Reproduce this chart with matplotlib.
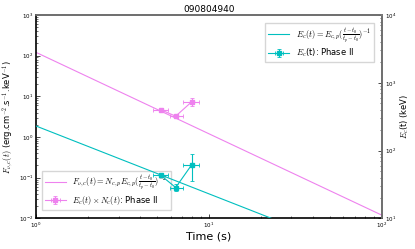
import numpy as np
import matplotlib.pyplot as plt

plt.rcParams['mathtext.fontset'] = 'cm'

# Phase II data (left axis: flux, right axis: Ec)
t_mid = [5.28, 6.42, 7.94]
t_lo = [4.77, 5.95, 7.05]
t_hi = [5.82, 7.05, 8.75]
flux = [4.65, 3.25, 7.3]
flux_lo = [4.2, 2.9, 5.7]
flux_hi = [5.1, 3.6, 9.2]
ec = [42.9, 28.5, 61.5]
ec_lo = [40.5, 25.4, 35.3]
ec_hi = [45.5, 31.9, 87.5]

# fitted power laws: value at t = 1 s and index
flux_norm, flux_index = 120.0, -2.0
ec_norm, ec_index = 230.0, -1.0

c_flux = '#ee82ee'
c_ec = '#00bfbf'

t_mid = np.array(t_mid)
xerr = [t_mid - np.array(t_lo), np.array(t_hi) - t_mid]
flux = np.array(flux)
yerr_f = [flux - np.array(flux_lo), np.array(flux_hi) - flux]
ec = np.array(ec)
yerr_e = [ec - np.array(ec_lo), np.array(ec_hi) - ec]

t_model = np.logspace(0, 2, 200)

fig = plt.figure(figsize=(4.15, 2.49), dpi=100)
ax = fig.add_axes([0.087, 0.123, 0.833, 0.817])
ax2 = ax.twinx()

ax.plot(t_model, flux_norm * t_model ** flux_index, color=c_flux, lw=0.8,
        label=r'$F_{\nu,c}(t) = N_{c,p}E_{c,p}(\frac{t-t_0}{t_p-t_0})^{-2}$')
ax.errorbar(t_mid, flux, xerr=xerr, yerr=yerr_f, color=c_flux, marker='s', ms=2.5,
            lw=0.8, elinewidth=0.8, capsize=1.5, capthick=0.6,
            label=r'$E_c(t) \times N_c(t)$: Phase II')
ax.set_xscale('log')
ax.set_yscale('log')
ax.set_xlim(1, 100)
ax.set_ylim(1e-2, 1e3)
ax.set_xlabel('Time (s)', fontsize=8, labelpad=1)
ax.set_ylabel(r'$F_{\nu,c}(t)$ (erg.cm$^{-2}$.s$^{-1}$.keV$^{-1}$)', fontsize=6, labelpad=2)
ax.set_title('090804940', fontsize=6.5, pad=2)
ax.tick_params(which='both', direction='in', labelsize=4, pad=2)
ax.tick_params(which='major', length=3, width=0.5)
ax.tick_params(which='minor', length=1.5, width=0.4)
for s in ax.spines.values():
    s.set_linewidth(1.2)
ax.legend(loc='lower left', fontsize=6, fancybox=False, edgecolor='#cccccc',
          borderpad=0.35, labelspacing=0.25, handlelength=2.5,
          bbox_to_anchor=(0.005, 0.02))

ax2.plot(t_model, ec_norm * t_model ** ec_index, color=c_ec, lw=0.8,
         label=r'$E_c(t) = E_{c,p}(\frac{t-t_0}{t_p-t_0})^{-1}$')
ax2.errorbar(t_mid, ec, xerr=xerr, yerr=yerr_e, color=c_ec, marker='s', ms=2.5,
             lw=0.8, elinewidth=0.8, capsize=1.5, capthick=0.6,
             label=r'$E_c$(t): Phase II')
ax2.set_yscale('log')
ax2.set_ylim(10, 1e4)
ax2.set_ylabel(r'$E_c$(t) (keV)', fontsize=6, labelpad=2)
ax2.tick_params(which='both', direction='in', labelsize=4, pad=2)
ax2.tick_params(which='major', length=3, width=0.5)
ax2.tick_params(which='minor', length=1.5, width=0.4)
ax2.spines['right'].set_color('gray')
ax2.spines['top'].set_color('gray')
ax2.spines['right'].set_linewidth(1.2)
ax2.spines['top'].set_linewidth(1.2)
ax2.spines['left'].set_visible(False)
ax2.spines['bottom'].set_visible(False)
ax2.legend(loc='upper right', fontsize=6, fancybox=False, edgecolor='#cccccc',
           borderpad=0.35, labelspacing=0.25, handlelength=2.5,
           bbox_to_anchor=(0.99, 0.98))

fig.savefig('out.png', dpi=100)
